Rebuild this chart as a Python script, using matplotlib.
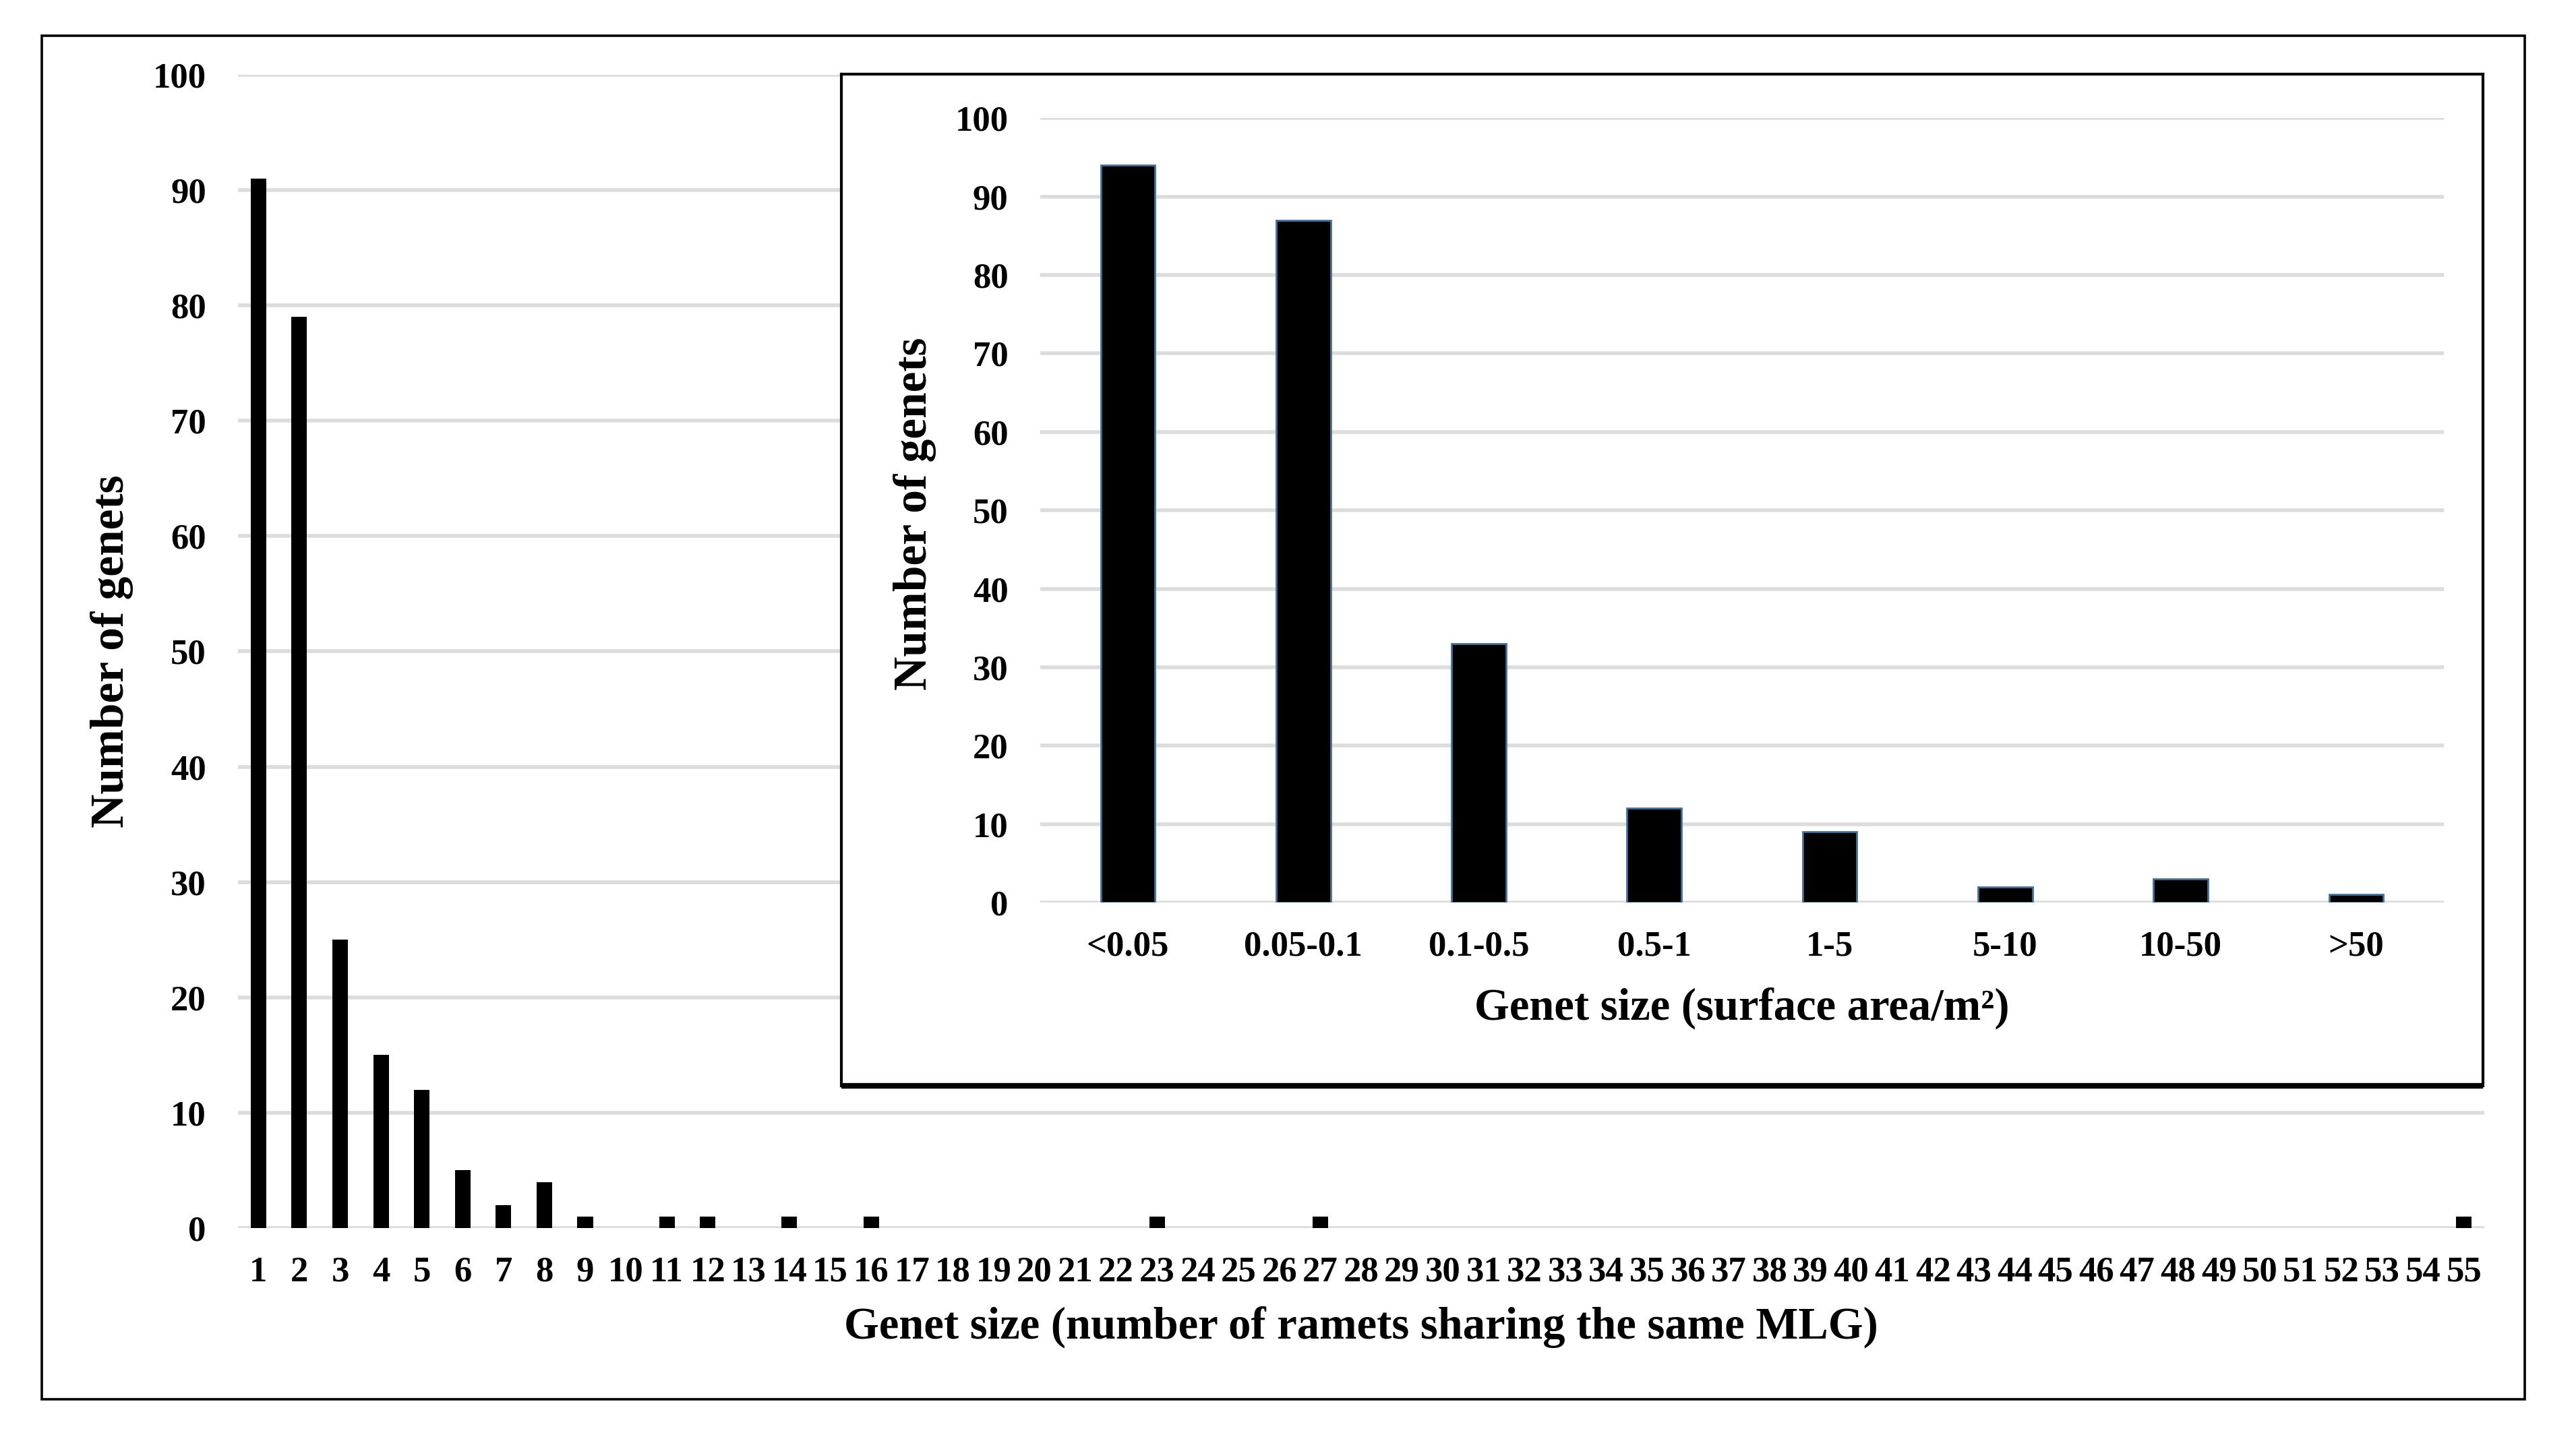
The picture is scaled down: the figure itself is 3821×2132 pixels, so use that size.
import numpy as np
import matplotlib.pyplot as plt
from matplotlib.patches import Rectangle

plt.rc('font', family='Liberation Serif', weight='bold')

mTickSize = 19
mLabelSize = 24
gridColor = '#dcdcdc'

# main chart: genet size (ramets per MLG) vs number of genets
ramets = list(range(1, 56))
genetCounts = {1: 91, 2: 79, 3: 25, 4: 15, 5: 12, 6: 5, 7: 2, 8: 4, 9: 1,
               11: 1, 12: 1, 14: 1, 16: 1, 23: 1, 27: 1, 55: 1}
nGenets = [genetCounts.get(r, 0) for r in ramets]

# inset: genet surface area classes
areaClasses = ["<0.05", "0.05-0.1", "0.1-0.5", "0.5-1", "1-5", "5-10", "10-50", ">50"]
areaCounts = [94, 87, 33, 12, 9, 2, 3, 1]

fig = plt.figure(figsize=(3821/200, 2132/200), dpi=200)

# outer frame
fig.patches.append(Rectangle((0.0162, 0.0263), 0.9801-0.0162, 0.9751-0.0263,
                             transform=fig.transFigure, fill=False,
                             edgecolor='black', linewidth=1.3, zorder=0))

ax = fig.add_axes([0.0924, 0.1454, 0.9644-0.0924, 0.948-0.1454])
ax.bar(ramets, nGenets, width=0.38, color='black', zorder=3)
ax.set_xlim(0.5, 55.5)
ax.set_ylim(0, 100)
ax.set_yticks(np.arange(0, 101, 10))
ax.set_xticks(ramets)
ax.yaxis.grid(True, color=gridColor, linewidth=2, zorder=0)
ax.set_axisbelow(True)
for s in ax.spines.values():
    s.set_visible(False)
ax.tick_params(axis='both', length=0, labelsize=mTickSize)
ax.tick_params(axis='x', pad=15)
ax.tick_params(axis='y', pad=17)
ax.set_xlabel('Genet size (number of ramets sharing the same MLG)', fontsize=mLabelSize, fontweight='bold')
ax.set_ylabel('Number of genets', fontsize=25, fontweight='bold')
ax.xaxis.label.set_va('center')
ax.yaxis.label.set_va('center')
ax.xaxis.set_label_coords(0.5, -0.086)
ax.yaxis.set_label_coords(-0.0561, 0.5)

# inset box (white background hides main grid)
box = fig.add_axes([0.3266, 0.2444, 0.9639-0.3266, 0.9484-0.2444])
box.set_xticks([])
box.set_yticks([])
box.set_facecolor('white')
for s in box.spines.values():
    s.set_linewidth(1.5)
box.spines['bottom'].set_linewidth(3)
box.spines['bottom'].set_capstyle('butt')

ax2 = fig.add_axes([0.4038, 0.372, 0.9487-0.4038, 0.9177-0.372])
ax2.patch.set_alpha(0)
x2 = np.arange(len(areaClasses))
ax2.bar(x2, areaCounts, width=0.31, color='black', edgecolor='#41719C', linewidth=1, zorder=3)
ax2.set_xlim(-0.5, len(areaClasses)-0.5)
ax2.set_ylim(0, 100)
ax2.set_yticks(np.arange(0, 101, 10))
ax2.set_xticks(x2)
ax2.set_xticklabels(areaClasses)
ax2.yaxis.grid(True, color=gridColor, linewidth=2, zorder=0)
ax2.set_axisbelow(True)
for s in ax2.spines.values():
    s.set_visible(False)
ax2.tick_params(axis='both', length=0, labelsize=mTickSize)
ax2.tick_params(axis='x', pad=15)
ax2.tick_params(axis='y', pad=17)
ax2.set_xlabel('Genet size (surface area/m\u00b2)', fontsize=mLabelSize, fontweight='bold')
ax2.set_ylabel('Number of genets', fontsize=25, fontweight='bold')
ax2.xaxis.label.set_va('center')
ax2.yaxis.label.set_va('center')
ax2.xaxis.set_label_coords(0.5, -0.135)
ax2.yaxis.set_label_coords(-0.0893, 0.496)

fig.savefig('out.png', dpi=200, facecolor='white')
